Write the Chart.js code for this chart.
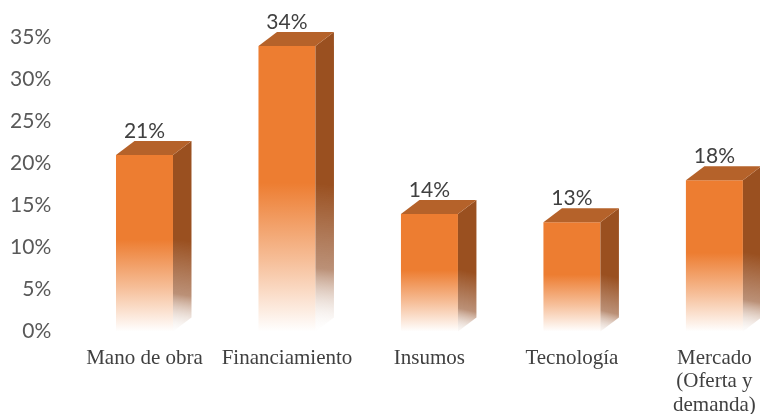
<!DOCTYPE html>
<html>
<head>
<meta charset="utf-8">
<script src="https://cdn.jsdelivr.net/npm/chart.js@4.4.1/dist/chart.umd.min.js"></script>
<style>
  html, body { margin: 0; padding: 0; background: #fff; }
  #wrap { width: 760px; height: 414px; position: relative; }
</style>
</head>
<body>
<div id="wrap"><canvas id="factorChart"></canvas></div>
<script>
// chart data
var categories = ['Mano de obra', 'Financiamiento', 'Insumos', 'Tecnología', ['Mercado', '(Oferta y', 'demanda)']];
var percentValues = [21, 34, 14, 13, 18];
var yTicks = [0, 5, 10, 15, 20, 25, 30, 35];

var ORANGE = '#ED7D31';
var SIDE = '#9A5020';
var TOP = '#B5622A';
var DX = 18.5, DY = 14;

// fake 3d: side + top faces and value labels on top of the flat bars
var bar3d = {
    id: 'bar3d',
    afterDatasetsDraw: function(chart) {
        var ctx = chart.ctx;
        var base = chart.scales.y.getPixelForValue(0);
        chart.getDatasetMeta(0).data.forEach(function(bar, i) {
            var half = bar.width / 2;
            var xl = bar.x - half, xr = bar.x + half, top = bar.y;

            // side face
            var g = ctx.createLinearGradient(xr, top - DY, xr - 30, base);
            g.addColorStop(0, SIDE);
            g.addColorStop(0.5, SIDE);
            g.addColorStop(0.78, 'rgba(175,125,95,0.85)');
            g.addColorStop(1, 'rgba(255,255,255,0)');
            ctx.save();
            ctx.fillStyle = g;
            ctx.beginPath();
            ctx.moveTo(xr, top);
            ctx.lineTo(xr + DX, top - DY);
            ctx.lineTo(xr + DX, base - DY);
            ctx.lineTo(xr, base);
            ctx.closePath();
            ctx.fill();

            // top face
            ctx.fillStyle = TOP;
            ctx.beginPath();
            ctx.moveTo(xl, top);
            ctx.lineTo(xl + DX, top - DY);
            ctx.lineTo(xr + DX, top - DY);
            ctx.lineTo(xr, top);
            ctx.closePath();
            ctx.fill();

            // value label
            ctx.fillStyle = '#404040';
            ctx.font = '21px Lato, "Liberation Sans", sans-serif';
            ctx.textAlign = 'center';
            ctx.textBaseline = 'middle';
            ctx.fillText(percentValues[i] + '%', bar.x, top - 24);
            ctx.restore();
        });
    }
};

var chartData = percentValues.map(function(v, i) { return { x: i, y: v }; });

new Chart(document.getElementById('factorChart').getContext('2d'), {
    type: 'bar',
    data: {
        datasets: [{
            data: chartData,
            borderWidth: 0,
            categoryPercentage: 0.4,
            barPercentage: 1,
            backgroundColor: function(c) {
                var chart = c.chart;
                if (!chart.chartArea || c.type !== 'data') return ORANGE;
                var ys = chart.scales.y;
                var top = ys.getPixelForValue(c.raw.y), base = ys.getPixelForValue(0);
                var g = chart.ctx.createLinearGradient(0, top, 0, base);
                g.addColorStop(0, ORANGE);
                g.addColorStop(0.48, ORANGE);
                g.addColorStop(0.75, '#F6BE98');
                g.addColorStop(1, '#FFFFFF');
                return g;
            }
        }]
    },
    options: {
        responsive: true,
        maintainAspectRatio: false,
        animation: false,
        layout: { padding: { top: 37.5, left: 0, right: 0, bottom: 0 } },
        plugins: {
            legend: { display: false },
            tooltip: { enabled: false }
        },
        scales: {
            x: {
                type: 'linear',
                offset: false,
                min: -0.5,
                max: 4.32,
                grid: { display: false, offset: false },
                border: { display: false },
                afterFit: function(scale) {
                    scale.height = 82.5;
                    scale.paddingLeft = 0;
                    scale.paddingRight = 0;
                },
                afterBuildTicks: function(scale) {
                    scale.ticks = categories.map(function(c, i) { return { value: i }; });
                },
                ticks: {
                    padding: 7,
                    maxRotation: 0,
                    autoSkip: false,
                    color: '#404040',
                    font: { family: '"Liberation Serif", "Times New Roman", serif', size: 21, lineHeight: 1.12 },
                    callback: function(value) { return categories[value]; }
                }
            },
            y: {
                min: 0,
                max: 35,
                grid: { display: false },
                border: { display: false },
                afterFit: function(scale) { scale.width = 73.25; },
                afterBuildTicks: function(scale) {
                    scale.ticks = yTicks.map(function(v) { return { value: v }; });
                },
                ticks: {
                    padding: 14,
                    color: '#595959',
                    font: { family: 'Lato, "Liberation Sans", sans-serif', size: 21 },
                    callback: function(value) { return value + '%'; }
                }
            }
        }
    },
    plugins: [bar3d]
});
</script>
</body>
</html>
